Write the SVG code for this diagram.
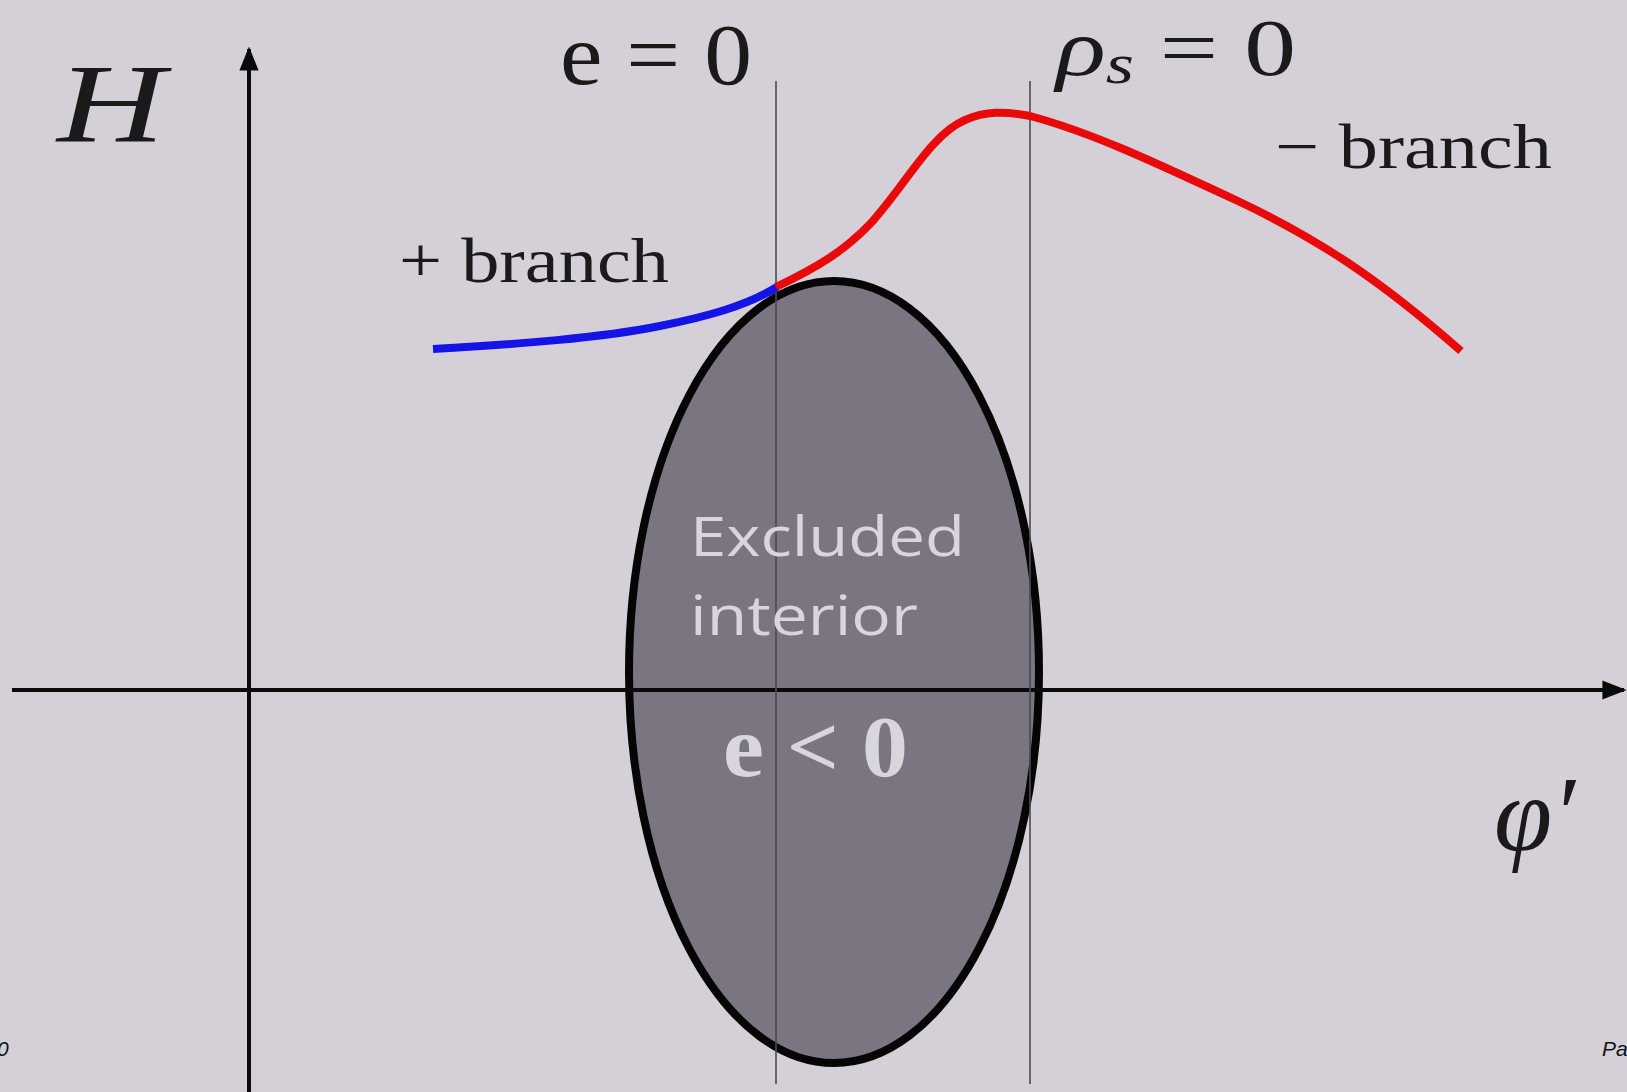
<svg xmlns="http://www.w3.org/2000/svg" width="1627" height="1092" viewBox="0 0 1627 1092">
<defs>
<style>
.serif{font-family:"Liberation Serif","DejaVu Serif",serif;fill:#1a1a1a}
.sans{font-family:"Liberation Sans","DejaVu Sans",sans-serif;font-style:italic;fill:#111}
.axis{stroke:#0a0a0a;stroke-width:4;fill:none}
.guide{stroke:#4a4a50;stroke-width:1.6;fill:none}
.curve{fill:none;stroke-width:8;stroke-linecap:butt;stroke-linejoin:round}
.light{fill:#d9d5dc}
</style>
<marker id="arr" viewBox="0 0 10 10" refX="9" refY="5" markerWidth="6" markerHeight="6" markerUnits="strokeWidth" orient="auto">
<path d="M0,1 L10,5 L0,9 Z" fill="#0a0a0a"/>
</marker>
</defs>
<rect x="0" y="0" width="1627" height="1092" fill="#d5d0d7"/>

<g id="excluded-region">
<ellipse cx="834" cy="672" rx="205" ry="391" fill="#7a7580" stroke="#050505" stroke-width="8"/>
</g>

<g id="connectors">
<line class="axis" x1="249" y1="1092" x2="249" y2="49" marker-end="url(#arr)"/>
<line class="axis" x1="12" y1="690" x2="1624" y2="690" marker-end="url(#arr)"/>
<line class="guide" x1="776" y1="81" x2="776" y2="1084"/>
<line class="guide" x1="1030" y1="81" x2="1030" y2="1084"/>
</g>

<g id="plus-branch">
<path class="curve" stroke="#1414e6" d="M433,349 C520,344 600,338 660,326 C710,316 748,305 777,287"/>
</g>
<g id="minus-branch">
<path class="curve" stroke="#e80a0a" d="M776,287 C820,266 845,250 870,224 C905,186 930,135 965,120 C985,111 1005,111 1030,116 C1090,132 1150,160 1240,202 C1320,240 1380,280 1461,351"/>
</g>

<g id="labels">
<text class="serif" x="57" y="141" font-size="112" font-style="italic" textLength="108" lengthAdjust="spacingAndGlyphs">H</text>
<text class="serif" x="560" y="84" font-size="86" textLength="192" lengthAdjust="spacingAndGlyphs">e = 0</text>
<text class="serif" x="1056" y="75" font-size="80" font-style="italic" textLength="240" lengthAdjust="spacingAndGlyphs">ρ<tspan font-size="56" dy="8">s</tspan><tspan font-style="normal" dy="-8"> = 0</tspan></text>
<text class="serif" x="1275" y="168" font-size="64" textLength="277" lengthAdjust="spacingAndGlyphs">− branch</text>
<text class="serif" x="399" y="282" font-size="64" textLength="270" lengthAdjust="spacingAndGlyphs">+ branch</text>
<text class="serif" x="1494" y="850" font-size="105" font-style="italic">φ′</text>
</g>

<g id="region-labels">
<text class="light" x="690" y="556" font-family="'Open Sans','DejaVu Sans',sans-serif" font-size="54" textLength="275" lengthAdjust="spacingAndGlyphs">Excluded</text>
<text class="light" x="690" y="635" font-family="'Open Sans','DejaVu Sans',sans-serif" font-size="54" textLength="228" lengthAdjust="spacingAndGlyphs">interior</text>
<text class="light" x="723" y="776" font-family="'Liberation Serif','DejaVu Serif',serif" font-size="86" font-weight="bold" textLength="185" lengthAdjust="spacingAndGlyphs">e &lt; 0</text>
</g>

<g id="footer">
<text class="sans" x="-3" y="1056" font-size="21">0</text>
<text class="sans" x="1602" y="1056" font-size="21">Pa</text>
</g>
</svg>
